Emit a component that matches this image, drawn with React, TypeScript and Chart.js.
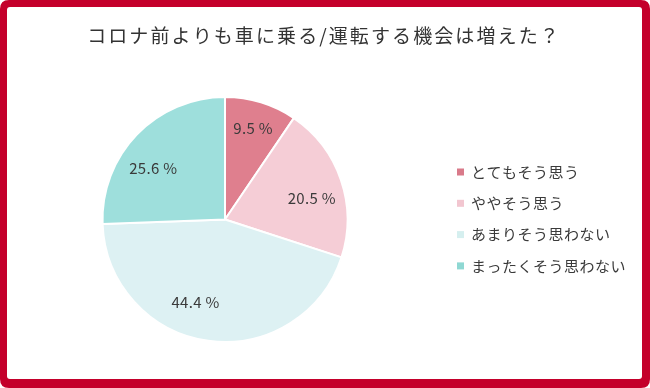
import React, { useEffect, useRef } from "react";
import { Chart, registerables } from "chart.js";

Chart.register(...registerables);

const TITLE = "コロナ前よりも車に乗る/運転する機会は増えた？";
const CATEGORIES = ["とてもそう思う", "ややそう思う", "あまりそう思わない", "まったくそう思わない"];
const VALUES = [9.5, 20.5, 44.4, 25.6];
const COLORS = ["#df7f8e", "#f5cdd6", "#ddf1f3", "#9edfdc"];
const LEGEND_COLORS = ["#d97a8a", "#f2c6d0", "#d5efef", "#8fd8d3"];

const FONT = '"Noto Sans CJK JP", "Noto Sans", sans-serif';
const FRAME_RED = "#c4002b";

// label placement (angle shift in degrees, fraction of radius)
const LABEL_PLACEMENT = [
  { shift: 0, f: 0.78 },
  { shift: 5, f: 0.73 },
  { shift: 11.6, f: 0.72 },
  { shift: -8.3, f: 0.72 },
];

function roundRect(ctx: CanvasRenderingContext2D, x: number, y: number, w: number, h: number, r: number) {
  ctx.beginPath();
  ctx.moveTo(x + r, y);
  ctx.lineTo(x + w - r, y);
  ctx.quadraticCurveTo(x + w, y, x + w, y + r);
  ctx.lineTo(x + w, y + h - r);
  ctx.quadraticCurveTo(x + w, y + h, x + w - r, y + h);
  ctx.lineTo(x + r, y + h);
  ctx.quadraticCurveTo(x, y + h, x, y + h - r);
  ctx.lineTo(x, y + r);
  ctx.quadraticCurveTo(x, y, x + r, y);
  ctx.closePath();
}

const framePlugin = {
  id: "frame",
  beforeDraw(chart: any) {
    const ctx = chart.ctx as CanvasRenderingContext2D;
    const W = chart.width;
    const H = chart.height;
    ctx.save();
    ctx.fillStyle = FRAME_RED;
    roundRect(ctx, 0, 0, W, H, 9);
    ctx.fill();
    ctx.fillStyle = "#ffffff";
    roundRect(ctx, 7, 7, W - 15, H - 16, 3);
    ctx.fill();
    ctx.restore();
  },
};

const decorPlugin = {
  id: "decor",
  afterDatasetsDraw(chart: any) {
    const ctx = chart.ctx as CanvasRenderingContext2D;
    const meta = chart.getDatasetMeta(0);
    ctx.save();
    ctx.font = `15px ${FONT}`;
    (ctx as any).letterSpacing = "0.3px";
    ctx.fillStyle = "#3a3a3a";
    ctx.textAlign = "center";
    ctx.textBaseline = "middle";
    meta.data.forEach((arc: any, i: number) => {
      const p = arc.getProps(["x", "y", "startAngle", "endAngle", "outerRadius"], true);
      const pl = LABEL_PLACEMENT[i];
      const mid = (p.startAngle + p.endAngle) / 2 + (pl.shift * Math.PI) / 180;
      const r = p.outerRadius * pl.f;
      const val = chart.data.datasets[0].data[i] as number;
      ctx.fillText(`${val.toFixed(1)} %`, p.x + Math.cos(mid) * r, p.y + Math.sin(mid) * r);
    });

    // title
    ctx.font = `19px ${FONT}`;
    (ctx as any).letterSpacing = "2.1px";
    ctx.fillStyle = "#333333";
    ctx.textAlign = "center";
    ctx.fillText(TITLE, 324, 36);

    // legend
    ctx.font = `15px ${FONT}`;
    (ctx as any).letterSpacing = "0.5px";
    ctx.textAlign = "left";
    const labels = chart.data.labels as string[];
    labels.forEach((lab, i) => {
      const y = 172 + i * 31.3;
      ctx.fillStyle = LEGEND_COLORS[i];
      ctx.fillRect(457, y - 3.5, 7, 7);
      ctx.fillStyle = "#3a3a3a";
      ctx.fillText(lab, 471, y);
    });
    (ctx as any).letterSpacing = "0px";
    ctx.restore();
  },
};

export default function App() {
  const ref = useRef<HTMLCanvasElement>(null);
  useEffect(() => {
    if (!ref.current) return;
    const chart = new Chart(ref.current, {
      type: "pie",
      data: {
        labels: CATEGORIES,
        datasets: [
          {
            data: VALUES,
            backgroundColor: COLORS,
            borderColor: "#ffffff",
            borderWidth: 2,
          },
        ],
      },
      options: {
        responsive: false,
        animation: false,
        devicePixelRatio: 1,
        layout: { padding: { left: 101.5, right: 301.5, top: 96, bottom: 45 } },
        plugins: {
          legend: { display: false },
          tooltip: { enabled: false },
          title: { display: false },
        },
      },
      plugins: [framePlugin, decorPlugin],
    });
    return () => chart.destroy();
  }, []);
  return (
    <div style={{ position: "fixed", left: 0, top: 0, width: 650, height: 388 }}>
      <canvas ref={ref} width={650} height={388} style={{ display: "block", width: 650, height: 388 }} />
    </div>
  );
}
